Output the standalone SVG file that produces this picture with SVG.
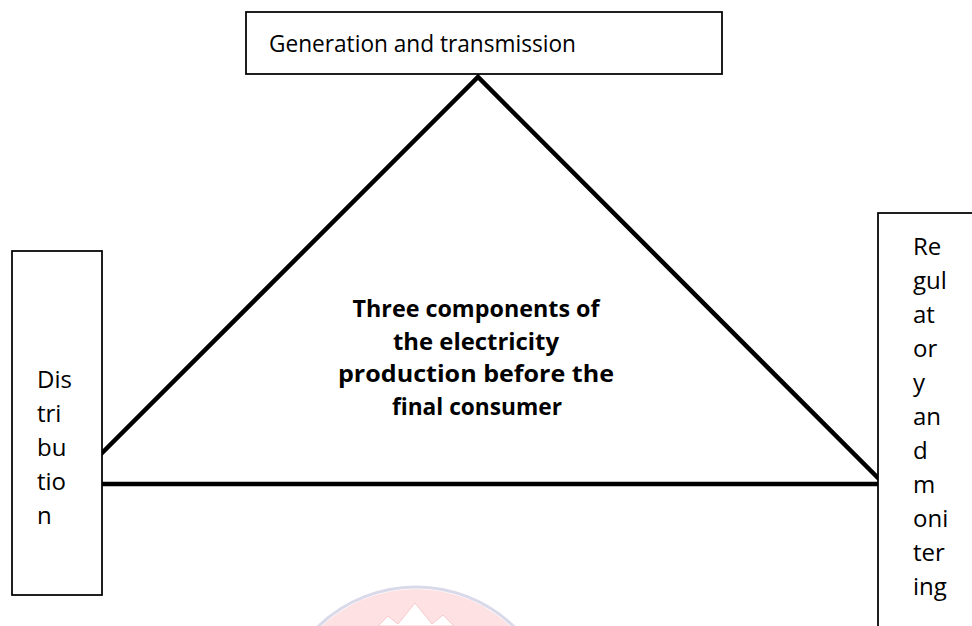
<svg xmlns="http://www.w3.org/2000/svg" width="972" height="626" viewBox="0 0 972 626">
<style>
.box{fill:#fff;stroke:#000;stroke-width:1.75}
.t{font-family:"Open Sans","Noto Sans","Liberation Sans",sans-serif;font-size:24px;fill:#000}
.b{font-family:"Open Sans","Noto Sans","Liberation Sans",sans-serif;font-size:24px;font-weight:bold;fill:#000;text-anchor:middle}
.edge{fill:none;stroke:#000;stroke-width:4.5;stroke-linejoin:miter}
</style>
<rect x="0" y="0" width="972" height="626" fill="#fff"/>
<g id="watermark">
<circle cx="416" cy="728" r="139" fill="#fde1e3"/>
<circle cx="416" cy="728" r="141" fill="none" stroke="#d9d9ea" stroke-width="3"/>
<polygon points="378,626 388,616 398,624 415,603 432,624 443,615 454,626" fill="#fff" stroke="#f7c9cd" stroke-width="1"/>
</g>
<g id="connectors">
<path class="edge" d="M71,484 L478,77 L884,484 Z"/>
</g>
<g id="center-label">
<text class="b" x="476" y="317" textLength="247" lengthAdjust="spacingAndGlyphs">Three components of</text>
<text class="b" x="476" y="350" textLength="166" lengthAdjust="spacingAndGlyphs">the electricity</text>
<text class="b" x="476" y="382" textLength="276" lengthAdjust="spacingAndGlyphs">production before the</text>
<text class="b" x="477" y="415" textLength="170" lengthAdjust="spacingAndGlyphs">final consumer</text>
</g>
<g id="generation">
<rect class="box" x="246" y="12" width="476" height="62"/>
<text class="t" x="269" y="52" textLength="307" lengthAdjust="spacingAndGlyphs">Generation and transmission</text>
</g>
<g id="distribution">
<rect class="box" x="12" y="251" width="90" height="344"/>
<text class="t" x="37" y="388">Dis</text>
<text class="t" x="37" y="422">tri</text>
<text class="t" x="37" y="456">bu</text>
<text class="t" x="37" y="490">tio</text>
<text class="t" x="37" y="524">n</text>
</g>
<g id="regulatory">
<rect class="box" x="878" y="213" width="120" height="500"/>
<text class="t" x="913" y="255">Re</text>
<text class="t" x="913" y="289">gul</text>
<text class="t" x="913" y="323">at</text>
<text class="t" x="913" y="357">or</text>
<text class="t" x="913" y="391">y</text>
<text class="t" x="913" y="425">an</text>
<text class="t" x="913" y="459">d</text>
<text class="t" x="913" y="493">m</text>
<text class="t" x="913" y="527">oni</text>
<text class="t" x="913" y="561">ter</text>
<text class="t" x="913" y="595">ing</text>
</g>
</svg>
